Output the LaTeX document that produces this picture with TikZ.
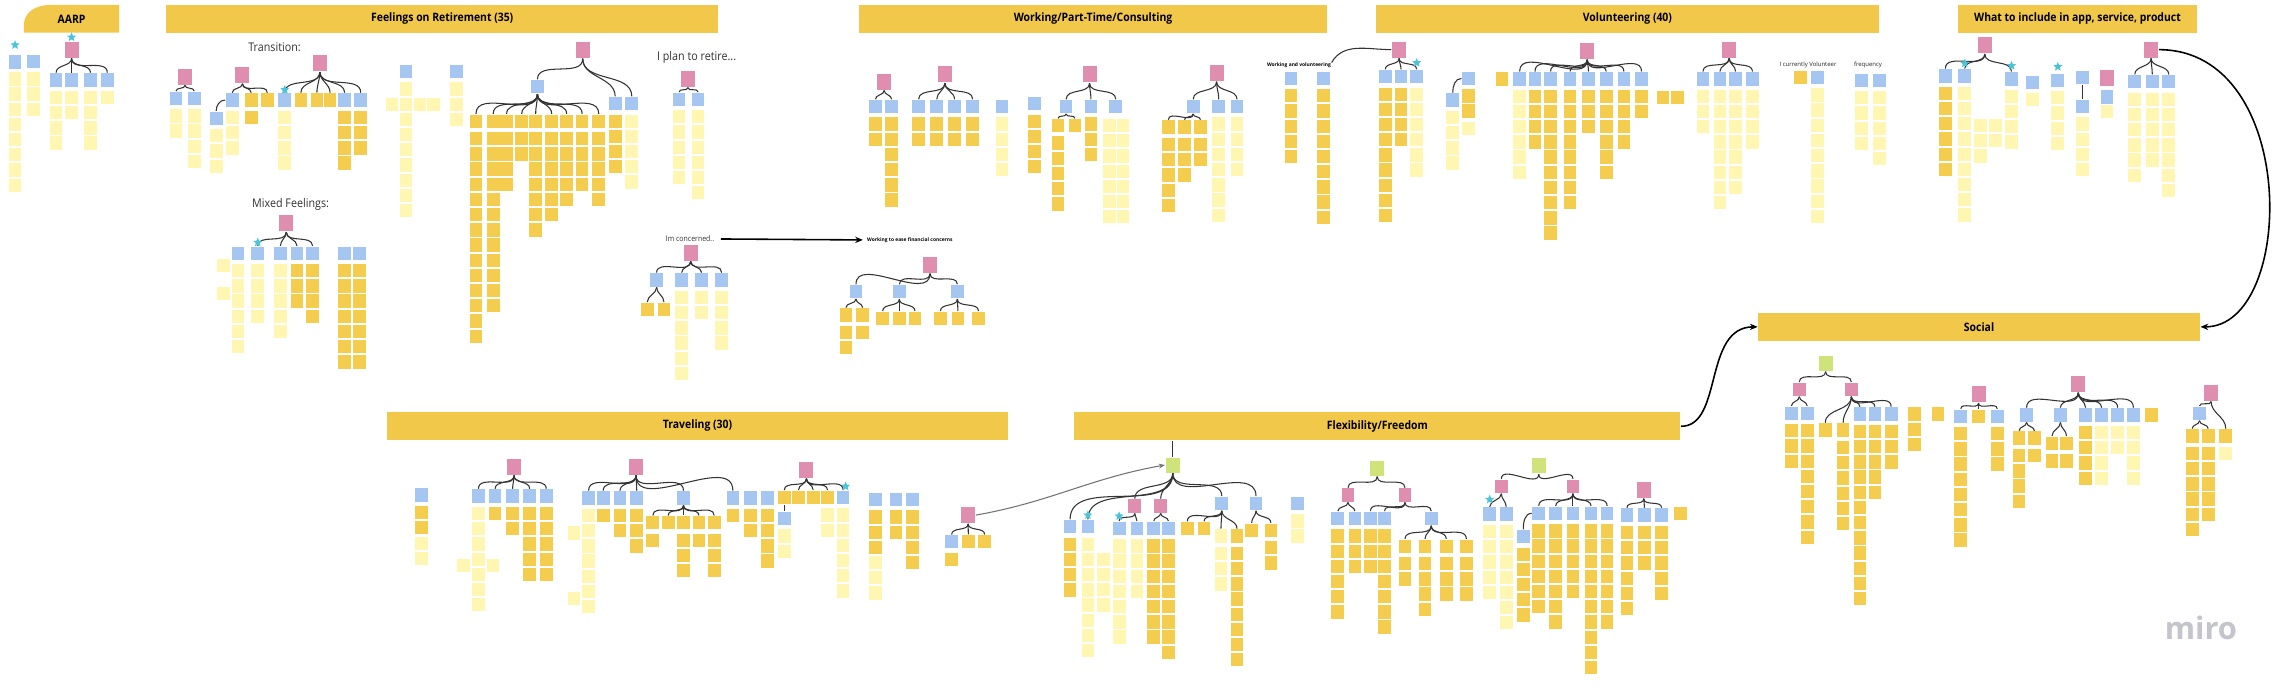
\documentclass[tikz,border=0pt]{standalone}
\usepackage{fontspec}
\setmainfont{Open Sans}
\usetikzlibrary{positioning, calc, shapes.geometric, arrows.meta}

\definecolor{barY}{RGB}{242,200,74}
\definecolor{noteY}{RGB}{244,204,78}
\definecolor{noteL}{RGB}{255,246,178}
\definecolor{noteP}{RGB}{224,142,176}
\definecolor{noteB}{RGB}{166,198,242}
\definecolor{noteG}{RGB}{208,226,122}
\definecolor{starC}{RGB}{74,196,214}
\definecolor{logoG}{RGB}{196,196,204}

%thin connector between stickies, and the bold board arrows
\tikzstyle{Link} = [draw=black!80, line width=0.3pt]
\tikzstyle{Arrow} = [draw=black, line width=0.45pt, -{Stealth[length=2.2pt, width=1.8pt]}]

\newcommand{\cond}[1]{\scalebox{0.9}[1]{#1}}
\newcommand{\notestack}[5]{%
  \foreach \j in {1,...,#4}{\node[note, fill=#5] (#1-\j) at (#2,{#3+(\j-1)*10.4}) {};}}
\newcommand{\notefan}[3]{%
  \foreach \nx/\ny/\nc/\nn/\ns [count=\k] in {#3}{%
    \node[note, fill=\nc] (#2-\k) at (\nx,\ny) {};
    \draw[Link] (#1.south) to[out=-90,in=90] (#2-\k.north);
    \ifnum\nn>0 \notestack{#2-\k}{\nx}{\ny+12}{\nn}{\ns}\fi}}

\begin{document}
\begin{tikzpicture}[x=0.14605mm, y=-0.14605mm,
  note/.style={rectangle, inner sep=0pt, minimum width=1.27mm, minimum height=1.33mm},
  pnote/.style={note, fill=noteP, minimum width=1.4mm, minimum height=1.6mm},
  gnote/.style={note, fill=noteG, minimum width=1.4mm, minimum height=1.5mm},
  tstar/.style={star, star points=5, star point ratio=2.2, fill=starC, inner sep=0pt, minimum size=0.95mm},
  head/.style={fill=barY, inner sep=0pt, minimum height=2.77mm, font=\bfseries\fontsize{3.3}{4}\selectfont},
  lbl/.style={inner sep=0pt, text=black!80, font=\fontsize{3.4}{4}\selectfont},
  lblsmall/.style={inner sep=0pt, text=black!85, font=\fontsize{1.7}{2}\selectfont},
  lbltiny/.style={inner sep=0pt, font=\bfseries\fontsize{1.4}{1.7}\selectfont}
]
\useasboundingbox (0,0) rectangle (1568,472);
\fill[white] (0,0) rectangle (1568,472);

% headers
\fill[barY] (81.5,22.4) -- (16.4,22.4) -- (16.4,16) .. controls (17,8) and (25,3.4) .. (34,3.4) -- (81.5,3.4) -- cycle;
\node[inner sep=0pt, font=\bfseries\fontsize{3.3}{4}\selectfont] (aarp) at (49,13) {\cond{AARP}};
\node[head, minimum width=55.21mm] (feel) at (302.8,12.9) {\cond{Feelings on Retirement (35)}};
\node[head, minimum width=46.78mm] (work) at (748.45,12.9) {\cond{Working/Part-Time/Consulting}};
\node[head, minimum width=50.31mm] (volu) at (1114.3,12.9) {\cond{Volunteering (40)}};
\node[head, minimum width=23.81mm] (what) at (1422.5,12.9) {\cond{What to include in app, service, product}};
\node[head, minimum width=44.14mm] (social) at (1355.1,223.8) {\cond{Social}};
\node[head, minimum width=62.14mm] (trav) at (477.6,291.6) {\cond{Traveling (30)}};
\node[head, minimum width=60.58mm] (flex) at (943.1,291.9) {\cond{Flexibility/Freedom}};

% AARP
\node[tstar] (a-s1) at (10.3,30.8) {};
\node[note, fill=noteB] (a-c1) at (10.3,42.5) {};
\notestack{a-c1}{10.3}{54}{8}{noteL}
\node[note, fill=noteB] (a-c2) at (22.8,42) {};
\notestack{a-c2}{22.8}{54}{3}{noteL}
\node[tstar] (a-s2) at (49,25.5) {};
\node[pnote] (a-p) at (49,34) {};
\notefan{a-p}{a-a}{38.4/54.8/noteB/4/noteL, 49/54.8/noteB/2/noteL, 62/54.8/noteB/4/noteL, 73.5/54.8/noteB/1/noteL}

% Feelings on retirement
\node[lbl] (f-trans) at (188,32) {\cond{Transition:}};
\node[pnote] (f-p1) at (126.7,52.5) {};
\notefan{f-p1}{f-a}{120.5/67.4/noteB/2/noteL, 133/67.4/noteB/4/noteL}
\node[pnote] (f-p2) at (166,51.4) {};
\notefan{f-p2}{f-b}{159/68.5/noteB/3/noteL, 172/68.5/noteY/1/noteY, 183/68.5/noteY/0/noteY}
\node[note, fill=noteB] (f-b0) at (148,81) {};
\draw[Link] (f-b-1.west) to[out=180,in=90] (f-b0.north);
\notestack{f-b0}{148}{93}{3}{noteL}
\node[pnote] (f-p3) at (219,43.4) {};
\notefan{f-p3}{f-c}{195/68.5/noteB/4/noteL, 206/68.5/noteY/0/noteY, 217/68.5/noteY/0/noteY, 226/68.5/noteY/0/noteY, 236/68.5/noteB/4/noteY, 247/68.5/noteB/3/noteY}
\node[tstar] (f-s1) at (195,61.5) {};

\node[note, fill=noteB] (f-m1) at (278,49) {};
\notestack{f-m1}{278}{61}{9}{noteL}
\node[note, fill=noteL] (f-m2) at (268.5,71.4) {};
\node[note, fill=noteL] (f-m3) at (287.5,71.4) {};
\node[note, fill=noteL] (f-m4) at (296.6,71.4) {};
\node[note, fill=noteB] (f-m5) at (312.5,49) {};
\notestack{f-m5}{312.5}{61}{3}{noteL}

\node[pnote] (f-p4) at (399,34.2) {};
\notefan{f-p4}{f-d}{368/59.4/noteB/0/noteY, 421.2/71/noteB/4/noteY, 432.6/71/noteB/5/noteL}
\notefan{f-d-1}{f-e}{325.9/83/noteY/14/noteY, 337.7/83/noteY/12/noteY, 346.9/83/noteY/4/noteY, 357.2/83/noteY/2/noteY, 366.8/83/noteY/7/noteY, 377.8/83/noteY/6/noteY, 388/83/noteY/5/noteY, 398.6/83/noteY/4/noteY, 410/83/noteY/5/noteY}

\node[lbl] (f-plan) at (477,39) {\cond{I plan to retire...}};
\node[pnote] (f-p5) at (471,54) {};
\notefan{f-p5}{f-f}{465/68/noteB/5/noteL, 478/68/noteB/6/noteL}

\node[lbl] (f-mix) at (199,140) {\cond{Mixed Feelings:}};
\node[pnote] (f-p6) at (196,153) {};
\notefan{f-p6}{f-g}{176.5/173.4/noteB/4/noteL, 192/173.4/noteB/5/noteL, 203.4/173.4/noteB/3/noteY, 214/173.4/noteB/4/noteY}
\node[tstar] (f-s2) at (176.5,166) {};
\node[note, fill=noteB] (f-g0) at (163,173.4) {};
\notestack{f-g0}{163}{185.4}{6}{noteL}
\node[note, fill=noteL] (f-g5) at (153,182) {};
\node[note, fill=noteL] (f-g6) at (153,201) {};
\node[note, fill=noteB] (f-h1) at (236,173.4) {};
\notestack{f-h1}{236}{185.4}{7}{noteY}
\node[note, fill=noteB] (f-h2) at (246.2,173.4) {};
\notestack{f-h2}{246.2}{185.4}{7}{noteY}

% concerns
\node[lbl, font=\fontsize{2.2}{2.6}\selectfont] (c-lbl) at (472.5,163.6) {\cond{Im concerned..}};
\node[lbltiny] (c-work) at (623,164.3) {Working to ease financial concerns};
\draw[Arrow, shorten <=0.6mm, shorten >=0.35mm] (c-lbl.east) -- (c-work.west);
\node[pnote] (c-p) at (472.9,173) {};
\notefan{c-p}{c-a}{449.6/191.7/noteB/0/noteY, 466.7/191.7/noteB/6/noteL, 480.4/191.7/noteB/2/noteL, 494.1/191.7/noteB/4/noteL}
\notefan{c-a-1}{c-b}{443.2/211.8/noteY/0/noteY, 454.6/211.8/noteY/0/noteY}
\node[pnote] (e-p) at (636.8,181.4) {};
\notefan{e-p}{e-a}{586.1/199.7/noteB/0/noteY, 615.8/199.7/noteB/0/noteY, 655.5/199.7/noteB/0/noteY}
\notefan{e-a-1}{e-b}{579.2/215.7/noteY/2/noteY, 590.6/215.7/noteY/1/noteY}
\notefan{e-a-2}{e-c}{604.4/218/noteY/0/noteY, 615.8/218/noteY/0/noteY, 626.5/218/noteY/0/noteY}
\notefan{e-a-3}{e-d}{643.9/218/noteY/0/noteY, 655.9/218/noteY/0/noteY, 670/218/noteY/0/noteY}

% Working
\node[pnote] (w-p1) at (605.4,56) {};
\notefan{w-p1}{w-a}{599.4/73/noteB/2/noteY, 610.5/73/noteB/6/noteY}
\node[pnote] (w-p2) at (647,51) {};
\notefan{w-p2}{w-b}{629/73/noteB/2/noteY, 641.4/73/noteB/2/noteY, 653.6/73/noteB/2/noteY, 666/73/noteB/2/noteY}
\node[note, fill=noteB] (w-c1) at (686,73) {};
\notestack{w-c1}{686}{85}{4}{noteL}
\node[note, fill=noteB] (w-c2) at (708.5,71) {};
\notestack{w-c2}{708.5}{83}{4}{noteY}
\node[pnote] (w-p3) at (746,51) {};
\notefan{w-p3}{w-d}{730/73/noteB/0/noteY, 747/73/noteB/3/noteY, 764/73/noteB/0/noteY}
\notefan{w-d-1}{w-e}{724.5/86/noteY/5/noteY, 736/86/noteY/0/noteY}
\notestack{w-f1}{759.5}{86}{7}{noteL}
\notestack{w-f2}{769}{86}{7}{noteL}
\node[pnote] (w-p4) at (833,50) {};
\notefan{w-p4}{w-g}{817/73/noteB/0/noteY, 834.5/73/noteB/7/noteL, 847/73/noteB/4/noteL}
\notefan{w-g-1}{w-h}{800/87/noteY/5/noteY, 811/87/noteY/3/noteY, 822/87/noteY/2/noteY}
\node[lbltiny] (w-wv) at (889.4,45) {Working and volunteering};
\node[note, fill=noteB] (w-i1) at (884,53.6) {};
\notestack{w-i1}{884}{65.6}{5}{noteY}
\node[note, fill=noteB] (w-i2) at (906,53.6) {};
\notestack{w-i2}{906}{65.6}{9}{noteY}

% Volunteering
\node[pnote] (v-p1) at (958,34) {};
\draw[Link] (v-p1.west) to[out=180,in=60] (w-wv.north east);
\notefan{v-p1}{v-a}{948.5/52.5/noteB/9/noteY, 959.3/52.5/noteB/4/noteY, 970/52.5/noteB/6/noteL}
\node[tstar] (v-s1) at (970,43) {};
\node[note, fill=noteB] (v-b1) at (994.7,68.5) {};
\notestack{v-b1}{994.7}{80.5}{4}{noteL}
\node[note, fill=noteB] (v-b2) at (1005.5,53.7) {};
\draw[Link] (v-b1.north) to[out=90,in=180] (v-b2.west);
\notestack{v-b2}{1005.5}{65.7}{2}{noteY}
\node[note, fill=noteL] (v-b3) at (1005.5,88) {};
\node[note, fill=noteY] (v-b4) at (1028.5,54) {};
\node[pnote] (v-p2) at (1086.8,35) {};
\notefan{v-p2}{v-c}{1040.5/54/noteB/6/noteL, 1051/54/noteB/4/noteY, 1061.7/54/noteB/10/noteY, 1075/54/noteB/8/noteY, 1087.7/54/noteB/3/noteY, 1099.8/54/noteB/6/noteY, 1111.9/54/noteB/4/noteY, 1124/54/noteB/2/noteY}
\node[note, fill=noteY] (v-d1) at (1138.7,67) {};
\node[note, fill=noteY] (v-d2) at (1148.6,67) {};
\node[pnote] (v-p3) at (1184,34) {};
\notefan{v-p3}{v-e}{1166/54/noteB/3/noteL, 1177.6/54/noteB/8/noteL, 1188.4/54/noteB/7/noteL, 1200/54/noteB/4/noteL}
\node[lblsmall] (v-cur) at (1238,44.5) {I currently Volunteer};
\node[note, fill=noteY] (v-f1) at (1233,53) {};
\node[note, fill=noteB] (v-f2) at (1244.6,53) {};
\notestack{v-f2}{1244.6}{65}{9}{noteL}
\node[lblsmall] (v-freq) at (1279,44.5) {frequency};
\node[note, fill=noteB] (v-g1) at (1274.8,55) {};
\notestack{v-g1}{1274.8}{67}{4}{noteL}
\node[note, fill=noteB] (v-g2) at (1287,55) {};
\notestack{v-g2}{1287}{67}{5}{noteL}

% What to include
\node[pnote] (q-p1) at (1359,31) {};
\notefan{q-p1}{q-a}{1332/52/noteB/6/noteY, 1345.3/52/noteB/9/noteL, 1377.3/54/noteB/4/noteL}
\node[tstar] (q-s1) at (1345.3,43.4) {};
\node[tstar] (q-s2) at (1377.3,45) {};
\notestack{q-x1}{1356}{86}{3}{noteL}
\notestack{q-x2}{1366.5}{86}{2}{noteL}
\node[note, fill=noteB] (q-b1) at (1391.5,56.4) {};
\node[note, fill=noteL] (q-b2) at (1391.5,68) {};
\node[tstar] (q-s3) at (1409,45.7) {};
\node[note, fill=noteB] (q-b3) at (1409,55) {};
\notestack{q-b3}{1409}{67}{4}{noteL}
\node[note, fill=noteB] (q-b4) at (1426,53) {};
\node[note, fill=noteB] (q-b5) at (1426,73) {};
\draw[Link] (q-b4) -- (q-b5);
\notestack{q-b5}{1426}{85}{4}{noteL}
\node[pnote] (q-p2) at (1442.6,53.7) {};
\node[note, fill=noteB] (q-b6) at (1442.6,66.5) {};
\node[note, fill=noteL] (q-b7) at (1442.6,76.5) {};
\node[pnote] (q-p3) at (1472.9,34) {};
\notefan{q-p3}{q-c}{1461.7/56/noteB/6/noteL, 1473.7/56/noteB/5/noteL, 1485/56/noteB/7/noteL}

% Traveling
\node[note, fill=noteB] (t-b0) at (288.5,339) {};
\notestack{t-b0}{288.5}{351}{2}{noteY}
\notestack{t-l0}{288.5}{372}{2}{noteL}
\node[pnote] (t-p1) at (352,319.6) {};
\notefan{t-p1}{t-a}{327.6/339.7/noteB/7/noteL, 339/339.7/noteB/1/noteY, 351/339.7/noteB/2/noteY, 362.7/339.7/noteB/5/noteY, 374/339.7/noteB/5/noteY}
\node[note, fill=noteL] (t-a6) at (317.5,387) {};
\node[note, fill=noteL] (t-a7) at (337.5,387) {};
\node[pnote] (t-p2) at (435.5,319.6) {};
\notefan{t-p2}{t-b}{403/341/noteB/7/noteL, 413/341/noteB/1/noteY, 424.5/341/noteB/2/noteY, 436/341/noteB/3/noteY, 468/341/noteB/0/noteY, 501.8/341/noteB/1/noteY}
\node[note, fill=noteL] (t-b7) at (393,365) {};
\node[note, fill=noteL] (t-b8) at (393,410) {};
\notefan{t-b-5}{t-c}{447/358/noteY/1/noteY, 457.5/358/noteY/0/noteY, 468/358/noteY/3/noteY, 478.6/358/noteY/1/noteY, 489/358/noteY/3/noteY}
\node[note, fill=noteB] (t-u1) at (514,341) {};
\notestack{t-u1}{514}{353}{2}{noteY}
\node[note, fill=noteB] (t-u2) at (525.4,341) {};
\notestack{t-u2}{525.4}{353}{4}{noteY}
\node[pnote] (t-p3) at (552.2,321.8) {};
\notefan{t-p3}{t-d}{537/340.6/noteY/0/noteY, 546.7/340.6/noteY/0/noteY, 556.8/340.6/noteY/0/noteY, 566.6/340.6/noteY/2/noteL, 577.3/340.6/noteB/6/noteL}
\node[tstar] (t-s1) at (579,333) {};
\node[note, fill=noteB] (t-d0) at (537,355) {};
\draw[Link] (t-d-1) -- (t-d0);
\notestack{t-d0}{537}{367}{2}{noteL}
\node[note, fill=noteB] (t-v1) at (599.6,342) {};
\notestack{t-v1}{599.6}{354}{3}{noteY}
\notestack{t-w1}{599.6}{385.2}{3}{noteL}
\node[note, fill=noteB] (t-v2) at (613.4,342) {};
\notestack{t-v2}{613.4}{354}{2}{noteY}
\node[note, fill=noteB] (t-v3) at (624.7,342) {};
\notestack{t-v3}{624.7}{354}{4}{noteY}
\node[pnote] (t-p4) at (662.9,352.7) {};
\notefan{t-p4}{t-e}{651.6/371/noteB/1/noteY, 663/371/noteY/0/noteY, 674.2/371/noteY/0/noteY}

% Flexibility
\node[gnote] (fx-g1) at (803,318.4) {};
\draw[Link] (flex.south -| fx-g1.north) -- (fx-g1.north);
\draw[Link, draw=black!55, -{Stealth[length=1.8pt]}] (t-p4.east) to[out=10,in=190] (fx-g1.west);
\notefan{fx-g1}{fx-a}{732.7/360.7/noteB/4/noteY, 744.9/360.7/noteB/8/noteL, 777/346.5/noteP/0/noteP, 794.7/346.5/noteP/0/noteP, 836.6/344.7/noteB/0/noteY, 860/344.7/noteB/0/noteY}
\node[tstar] (fx-s1) at (744.9,352.7) {};
\notestack{fx-x1}{755.6}{383}{4}{noteL}
\node[note, fill=noteB] (fx-y1) at (888.6,344.7) {};
\notestack{fx-y1}{888.6}{356.7}{2}{noteL}
\notefan{fx-a-3}{fx-b}{766.3/361.8/noteB/7/noteL, 778.5/361.8/noteB/4/noteL}
\node[tstar] (fx-s2) at (766.3,353.4) {};
\notefan{fx-a-4}{fx-c}{790/361.8/noteB/7/noteY, 800/361.8/noteB/8/noteY}
\notefan{fx-a-5}{fx-d}{813/362/noteY/0/noteY, 824.4/362/noteY/0/noteY, 836/367/noteL/3/noteL, 847/367/noteY/8/noteY}
\notefan{fx-a-6}{fx-e}{857/363/noteY/0/noteY, 870.2/363/noteY/2/noteY}

\node[gnote] (fx-g2) at (943,320.7) {};
\notefan{fx-g2}{fx-f}{923/339/noteP/0/noteP, 962/339/noteP/0/noteP}
\notefan{fx-f-1}{fx-h}{916/355/noteB/6/noteY, 927.7/355/noteB/3/noteY}
\notefan{fx-f-2}{fx-i}{938.4/355/noteB/3/noteY, 948/355/noteB/7/noteY, 980/355/noteB/0/noteY}
\notefan{fx-i-3}{fx-j}{962/374/noteY/2/noteY, 975.7/374/noteY/4/noteY, 990.3/374/noteY/3/noteY, 1004/374/noteY/3/noteY}

\node[gnote] (fx-g3) at (1053.6,319) {};
\notefan{fx-g3}{fx-k}{1028/333/noteP/0/noteP, 1077/333/noteP/0/noteP}
\notefan{fx-k-1}{fx-l}{1020/352/noteB/5/noteL, 1031.3/352/noteB/7/noteL}
\node[tstar] (fx-s3) at (1020,342) {};
\notefan{fx-k-2}{fx-m}{1053.6/351.5/noteB/6/noteY, 1065.2/351.5/noteB/7/noteY, 1077/351.5/noteB/5/noteY, 1089.4/351.5/noteB/10/noteY, 1100.4/351.5/noteB/7/noteY}
\node[note, fill=noteB] (fx-m0) at (1043,367.5) {};
\draw[Link] (fx-m-1.west) to[out=180,in=90] (fx-m0.north);
\notestack{fx-m0}{1043}{379.5}{5}{noteY}
\node[pnote] (fx-p7) at (1125.5,335.5) {};
\notefan{fx-p7}{fx-n}{1114/352.7/noteB/6/noteY, 1126/352.7/noteB/3/noteY, 1137.7/352.7/noteB/5/noteY}
\node[note, fill=noteY] (fx-o) at (1150.5,351.5) {};

% Social
\draw[Arrow] (flex.east) .. controls (1180,292) and (1166,224) .. (social.west);
\draw[Arrow] (q-p3.east) .. controls (1575,34) and (1572,224) .. (social.east);
\node[gnote] (s-g) at (1250,248.8) {};
\notefan{s-g}{s-a}{1232/266.6/noteP/0/noteP, 1267.6/266.6/noteP/0/noteP}
\notefan{s-a-1}{s-b}{1226.6/283/noteB/3/noteY, 1237.4/283/noteB/8/noteY}
\notefan{s-a-2}{s-c}{1249.8/294.5/noteY/0/noteY, 1262/294.5/noteY/6/noteY, 1273.5/283.5/noteB/12/noteY, 1283.8/283.5/noteB/5/noteY, 1294.9/283.5/noteB/3/noteY}
\notestack{s-d}{1311}{283.5}{3}{noteY}
\node[note, fill=noteY] (s-e) at (1327,283.5) {};
\node[pnote] (s-p3) at (1354.7,270) {};
\notefan{s-p3}{s-f}{1342.6/285/noteB/8/noteY, 1354.7/285/noteY/0/noteY, 1367.5/285/noteB/3/noteY}
\node[pnote] (s-p4) at (1423,263) {};
\notefan{s-p4}{s-q}{1387.6/284.2/noteB/0/noteY, 1410.8/284.2/noteB/0/noteY, 1428/284.2/noteB/4/noteY, 1439/284.2/noteB/4/noteL, 1450/284.2/noteB/2/noteL, 1460.8/284.2/noteB/4/noteL}
\notefan{s-q-1}{s-h}{1382.5/300/noteY/4/noteY, 1393/300/noteY/1/noteY}
\notefan{s-q-2}{s-i}{1405/303.6/noteY/1/noteY, 1415/303.6/noteY/1/noteY}
\node[note, fill=noteY] (s-j) at (1473,284.2) {};
\node[pnote] (s-p5) at (1514,269) {};
\notefan{s-p5}{s-k}{1506/283/noteB/0/noteY, 1524/298.5/noteY/1/noteL}
\notefan{s-k-1}{s-l}{1501/298.5/noteY/6/noteY, 1512/298.5/noteY/5/noteY}

\node[anchor=base, inner sep=0pt, text=logoG, font=\bfseries\fontsize{8.8}{10}\selectfont] (logo) at (1507,438) {miro};
\end{tikzpicture}
\end{document}
